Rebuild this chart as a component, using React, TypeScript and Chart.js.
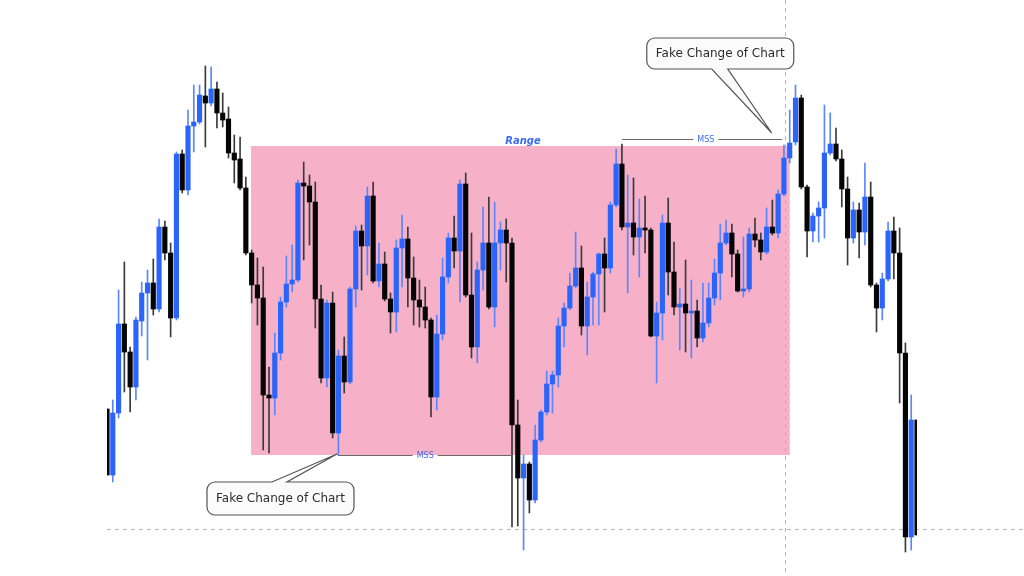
import React, { useEffect, useRef } from 'react';
import { Chart, registerables } from 'chart.js';

Chart.register(...registerables);

// OHLC values (price points)
const opens = [
  167, 101, 163, 252, 224, 189, 255, 283, 293, 267,
  349, 323, 258, 422, 386, 450, 454, 480, 473, 487,
  463, 457, 423, 417, 388, 323, 291, 278, 181, 178,
  223, 274, 292, 296, 393, 390, 374, 277, 198, 273,
  143, 220, 194, 287, 345, 330, 380, 295, 312, 277,
  264, 328, 337, 298, 276, 269, 256, 179, 242, 299,
  338, 325, 392, 281, 229, 306, 333, 269, 333, 346,
  333, 151, 98, 112, 76, 136, 164, 192, 201, 250,
  268, 290, 308, 250, 279, 302, 322, 308, 371, 412,
  349, 353, 339, 348, 346, 240, 263, 353, 304, 269,
  272, 263, 265, 238, 253, 278, 303, 333, 343, 322,
  285, 287, 342, 336, 324, 349, 343, 382, 418, 434,
  478, 389, 345, 360, 368, 423, 432, 417, 387, 338,
  366, 344, 379, 291, 268, 297, 345, 323, 223, 39,
  156,
];
const highs = [
  167, 176, 286, 314, 229, 259, 294, 306, 317, 357,
  355, 333, 424, 426, 466, 491, 491, 510, 509, 494,
  483, 469, 441, 439, 399, 326, 318, 309, 209, 243,
  279, 320, 331, 396, 414, 401, 394, 291, 276, 284,
  226, 239, 289, 350, 351, 389, 394, 333, 324, 283,
  336, 361, 349, 319, 296, 289, 258, 261, 318, 343,
  360, 396, 403, 343, 314, 369, 379, 374, 354, 357,
  338, 176, 121, 114, 151, 166, 205, 205, 258, 273,
  303, 344, 330, 294, 304, 323, 338, 374, 427, 432,
  401, 398, 377, 380, 348, 274, 361, 378, 334, 288,
  316, 296, 276, 293, 293, 317, 352, 356, 352, 326,
  339, 348, 358, 343, 368, 376, 386, 431, 466, 491,
  481, 391, 363, 374, 471, 463, 448, 426, 399, 374,
  373, 413, 394, 293, 303, 354, 359, 348, 233, 181,
  156,
];
const lows = [
  101, 94, 158, 184, 164, 176, 240, 216, 261, 264,
  316, 239, 256, 383, 381, 424, 452, 429, 470, 448,
  449, 418, 393, 386, 321, 273, 251, 126, 123, 161,
  216, 269, 284, 294, 316, 331, 248, 193, 189, 138,
  121, 183, 192, 269, 286, 301, 293, 289, 275, 243,
  244, 289, 269, 251, 249, 248, 159, 166, 236, 293,
  308, 274, 279, 218, 213, 286, 267, 249, 306, 294,
  49, 50, 26, 63, 73, 134, 161, 163, 189, 229,
  266, 288, 241, 221, 251, 251, 264, 303, 369, 346,
  283, 321, 299, 323, 239, 193, 236, 281, 261, 226,
  224, 218, 229, 234, 249, 271, 276, 331, 299, 284,
  279, 284, 329, 316, 322, 341, 338, 380, 413, 431,
  387, 319, 334, 334, 338, 421, 415, 369, 311, 333,
  318, 331, 289, 244, 256, 295, 297, 173, 24, 26,
  41,
];
const closes = [
  101, 163, 252, 224, 189, 256, 283, 293, 267, 349,
  323, 258, 422, 386, 450, 454, 481, 473, 487, 463,
  456, 423, 416, 388, 323, 291, 278, 181, 178, 223,
  274, 292, 296, 393, 390, 374, 277, 198, 273, 143,
  220, 194, 287, 345, 330, 380, 295, 312, 277, 264,
  328, 337, 298, 276, 269, 256, 179, 242, 299, 338,
  325, 392, 281, 229, 306, 333, 269, 333, 346, 333,
  151, 98, 112, 76, 136, 164, 192, 201, 250, 268,
  290, 308, 250, 279, 302, 322, 308, 371, 412, 349,
  353, 339, 348, 346, 240, 263, 353, 304, 269, 272,
  263, 265, 238, 253, 278, 303, 333, 343, 322, 285,
  287, 342, 336, 324, 349, 343, 382, 418, 433, 478,
  389, 345, 360, 368, 423, 432, 417, 387, 338, 366,
  344, 379, 291, 268, 297, 345, 323, 223, 39, 156,
  41,
];

// Annotation anchors in data coordinates (x = candle index, y = price)
const RANGE_BOX = { x0: 24.9, x1: 118.0, top: 430, bottom: 121 };
const TOP_MSS = { x0: 89.0, x1: 116.7, y: 437, labelX: 103.5 };
const BOTTOM_MSS = { x0: 39.9, x1: 70.0, y: 121, labelX: 55.0 };
const RANGE_LABEL = { x: 71.9, y: 435, text: 'Range' };
const TOP_CALLOUT = { x: 114.9, y: 443, text: 'Fake Change of Chart' };
const BOTTOM_CALLOUT = { x: 39.75, y: 122, text: 'Fake Change of Chart' };
const V_DASH_X = 117.15;
const H_DASH_Y = 47;

const BLUE = '#2b64fb';
const BLUE_WICK = '#5a86ff';
const BLACK = '#050505';
const BLACK_WICK = '#3a3a3a';
const PINK = '#f6b1c8';
const LABEL_BLUE = '#3b6cf0';

function calloutPath(
  ctx: CanvasRenderingContext2D,
  bx: number, by: number, w: number, h: number, r: number,
  p0: number, p1: number, tx: number, ty: number, pointerBottom: boolean
) {
  ctx.beginPath();
  ctx.moveTo(bx + r, by);
  if (!pointerBottom) {
    ctx.lineTo(bx + p0, by);
    ctx.lineTo(tx, ty);
    ctx.lineTo(bx + p1, by);
  }
  ctx.lineTo(bx + w - r, by);
  ctx.arcTo(bx + w, by, bx + w, by + r, r);
  ctx.lineTo(bx + w, by + h - r);
  ctx.arcTo(bx + w, by + h, bx + w - r, by + h, r);
  if (pointerBottom) {
    ctx.lineTo(bx + p1, by + h);
    ctx.lineTo(tx, ty);
    ctx.lineTo(bx + p0, by + h);
  }
  ctx.lineTo(bx + r, by + h);
  ctx.arcTo(bx, by + h, bx, by + h - r, r);
  ctx.lineTo(bx, by + r);
  ctx.arcTo(bx, by, bx + r, by, r);
  ctx.closePath();
  ctx.fillStyle = '#fbfbfb';
  ctx.fill();
  ctx.lineWidth = 1.2;
  ctx.strokeStyle = '#555555';
  ctx.stroke();
}

const annotationPlugin = {
  id: 'rangeAnnotations',
  beforeDatasetsDraw(chart: any) {
    const { ctx } = chart;
    const xs = chart.scales.x;
    const ys = chart.scales.y;
    ctx.save();
    const x0 = xs.getPixelForValue(RANGE_BOX.x0);
    const x1 = xs.getPixelForValue(RANGE_BOX.x1);
    const yt = ys.getPixelForValue(RANGE_BOX.top);
    const yb = ys.getPixelForValue(RANGE_BOX.bottom);
    ctx.fillStyle = PINK;
    ctx.fillRect(x0, yt, x1 - x0, yb - yt);

    ctx.setLineDash([4, 4]);
    ctx.strokeStyle = '#b8b8b8';
    ctx.lineWidth = 1;
    const vx = Math.round(xs.getPixelForValue(V_DASH_X)) + 0.5;
    ctx.beginPath();
    ctx.moveTo(vx, 0);
    ctx.lineTo(vx, chart.height);
    ctx.stroke();
    const hy = Math.round(ys.getPixelForValue(H_DASH_Y)) + 0.5;
    ctx.beginPath();
    ctx.moveTo(xs.getPixelForValue(0), hy);
    ctx.lineTo(chart.width, hy);
    ctx.stroke();
    ctx.restore();
  },
  afterDatasetsDraw(chart: any) {
    const { ctx } = chart;
    const xs = chart.scales.x;
    const ys = chart.scales.y;
    ctx.save();

    // MSS lines
    const drawMss = (m: { x0: number; x1: number; y: number; labelX: number }) => {
      const a = xs.getPixelForValue(m.x0);
      const b = xs.getPixelForValue(m.x1);
      const yy = Math.round(ys.getPixelForValue(m.y)) + 0.5;
      const lx = xs.getPixelForValue(m.labelX);
      ctx.font = "8px 'DejaVu Sans'";
      const tw = ctx.measureText('MSS').width;
      ctx.strokeStyle = '#6a6a6a';
      ctx.lineWidth = 1;
      ctx.setLineDash([]);
      ctx.beginPath();
      ctx.moveTo(a, yy);
      ctx.lineTo(lx - tw / 2 - 4, yy);
      ctx.moveTo(lx + tw / 2 + 4, yy);
      ctx.lineTo(b, yy);
      ctx.stroke();
      ctx.fillStyle = LABEL_BLUE;
      ctx.textAlign = 'center';
      ctx.textBaseline = 'middle';
      ctx.fillText('MSS', lx, yy + 0.5);
    };
    drawMss(TOP_MSS);
    drawMss(BOTTOM_MSS);

    // Range label
    ctx.font = "italic bold 10px 'DejaVu Sans'";
    ctx.fillStyle = LABEL_BLUE;
    ctx.textAlign = 'center';
    ctx.textBaseline = 'middle';
    ctx.fillText(RANGE_LABEL.text, xs.getPixelForValue(RANGE_LABEL.x), ys.getPixelForValue(RANGE_LABEL.y));

    // Callouts
    const tt = { x: xs.getPixelForValue(TOP_CALLOUT.x), y: ys.getPixelForValue(TOP_CALLOUT.y) };
    const tbx = tt.x - 125;
    const tby = tt.y - 95;
    calloutPath(ctx, tbx, tby, 147, 31, 8, 65, 81, tt.x, tt.y, true);
    ctx.font = "12px 'DejaVu Sans'";
    ctx.fillStyle = '#2b2b2b';
    ctx.fillText(TOP_CALLOUT.text, tbx + 147 / 2, tby + 31 / 2 + 0.5);

    const bt = { x: xs.getPixelForValue(BOTTOM_CALLOUT.x), y: ys.getPixelForValue(BOTTOM_CALLOUT.y) };
    const bbx = bt.x - 130;
    const bby = bt.y + 28;
    calloutPath(ctx, bbx, bby, 147, 33, 8, 65, 80, bt.x, bt.y, false);
    ctx.font = "12px 'DejaVu Sans'";
    ctx.fillStyle = '#2b2b2b';
    ctx.fillText(BOTTOM_CALLOUT.text, bbx + 147 / 2, bby + 33 / 2 + 0.5);

    ctx.restore();
  },
};

export default function App() {
  const ref = useRef<HTMLCanvasElement>(null);
  useEffect(() => {
    document.body.style.margin = '0';
    const canvas = ref.current;
    if (!canvas) return;
    const labels = opens.map((_, i) => String(i + 1));
    const up = opens.map((o, i) => closes[i] >= o);
    const chart = new Chart(canvas, {
      type: 'bar',
      data: {
        labels,
        datasets: [
          {
            label: 'body',
            data: opens.map((o, i) => [o, closes[i]]) as any,
            backgroundColor: up.map((u) => (u ? BLUE : BLACK)),
            barThickness: 4.5,
            grouped: false,
            order: 0,
            clip: 0 as any,
            minBarLength: 1.5,
            borderWidth: 0,
          } as any,
          {
            label: 'wick',
            data: lows.map((l, i) => [l, highs[i]]) as any,
            backgroundColor: up.map((u) => (u ? BLUE_WICK : BLACK_WICK)),
            barThickness: 1,
            grouped: false,
            order: 1,
            clip: 0 as any,
            borderWidth: 0,
          } as any,
        ],
      },
      options: {
        responsive: false,
        animation: false,
        devicePixelRatio: 1,
        layout: { padding: { left: 107, right: 107, top: 0, bottom: 0 } },
        plugins: { legend: { display: false }, tooltip: { enabled: false } },
        scales: {
          x: { display: false, offset: false, grid: { display: false } },
          y: { display: false, min: 0, max: 576 },
        },
      } as any,
      plugins: [annotationPlugin as any],
    });
    return () => chart.destroy();
  }, []);
  return (
    <div style={{ position: 'absolute', left: 0, top: 0, width: 1024, height: 576, background: '#ffffff' }}>
      <canvas ref={ref} width={1024} height={576} style={{ display: 'block', width: 1024, height: 576 }} />
    </div>
  );
}
